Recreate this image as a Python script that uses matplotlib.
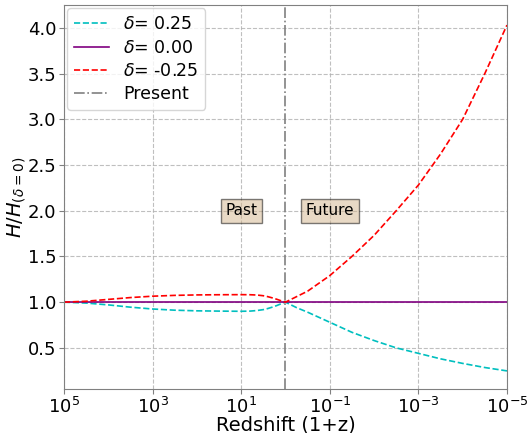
import matplotlib
matplotlib.use("Agg")
import matplotlib.pyplot as plt
import numpy as np

# 1+z sample points, from early universe (1e5) into the far future (1e-5)
log_redshift = [5.0, 4.5, 4.0, 3.5, 3.0, 2.5, 2.0, 1.5, 1.0, 0.8, 0.65, 0.5, 0.4, 0.3, 0.2, 0.1, 0.0,
                -0.25, -0.5, -1.0, -1.5, -2.0, -2.5, -3.0, -3.5, -4.0, -4.5, -5.0]
h_pos = [1.00, 0.99, 0.97, 0.945, 0.925, 0.912, 0.905, 0.902, 0.900, 0.902, 0.908, 0.918, 0.930, 0.945, 0.962, 0.982, 1.00,
         0.94, 0.89, 0.78, 0.67, 0.58, 0.50, 0.44, 0.38, 0.33, 0.285, 0.248]
h_zero = [1.0] * len(log_redshift)
h_neg = [1.00, 1.01, 1.03, 1.05, 1.065, 1.074, 1.079, 1.081, 1.082, 1.081, 1.078, 1.070, 1.060, 1.047, 1.032, 1.015, 1.00,
         1.06, 1.12, 1.29, 1.50, 1.73, 2.00, 2.28, 2.62, 3.00, 3.50, 4.03]

x = 10.0 ** np.array(log_redshift)

fig, ax = plt.subplots(figsize=(5.27, 4.33), dpi=100)
fig.subplots_adjust(left=0.1214, right=0.962, top=0.9885, bottom=0.1016)

ax.plot(x, h_pos, color='c', linestyle='--', linewidth=1.2, label=r'$\delta$= 0.25')
ax.plot(x, h_zero, color='purple', linestyle='-', linewidth=1.2, label=r'$\delta$= 0.00')
ax.plot(x, h_neg, color='red', linestyle='--', linewidth=1.2, label=r'$\delta$= -0.25')
ax.axvline(1.0, color='gray', linestyle='-.', linewidth=1.2, label='Present')

ax.set_xscale('log')
ax.set_xlim(1e5, 1e-5)
ax.set_ylim(0.05, 4.25)
ax.set_xticks([1e5, 1e3, 1e1, 1e-1, 1e-3, 1e-5])
ax.minorticks_off()

box = dict(boxstyle='square', facecolor='tan', alpha=0.5)
ax.text(10, 2.0, 'Past', ha='center', va='center', fontsize=11, bbox=box)
ax.text(0.1, 2.0, 'Future', ha='center', va='center', fontsize=11, bbox=box)

ax.grid(True, linestyle='--', color='#b0b0b0', linewidth=0.8, alpha=0.8)
for sp in ax.spines.values():
    sp.set_color('#808080')
ax.tick_params(labelsize=13, color='#808080', pad=2)

ax.set_xlabel('Redshift (1+z)', fontsize=14, labelpad=-1)
ax.set_ylabel(r'$H/H_{(\delta=0)}$', fontsize=14, labelpad=0)
ax.legend(loc='upper left', fontsize=12.5, borderaxespad=0.2, labelspacing=0.3)

fig.savefig('out.png', dpi=100)
